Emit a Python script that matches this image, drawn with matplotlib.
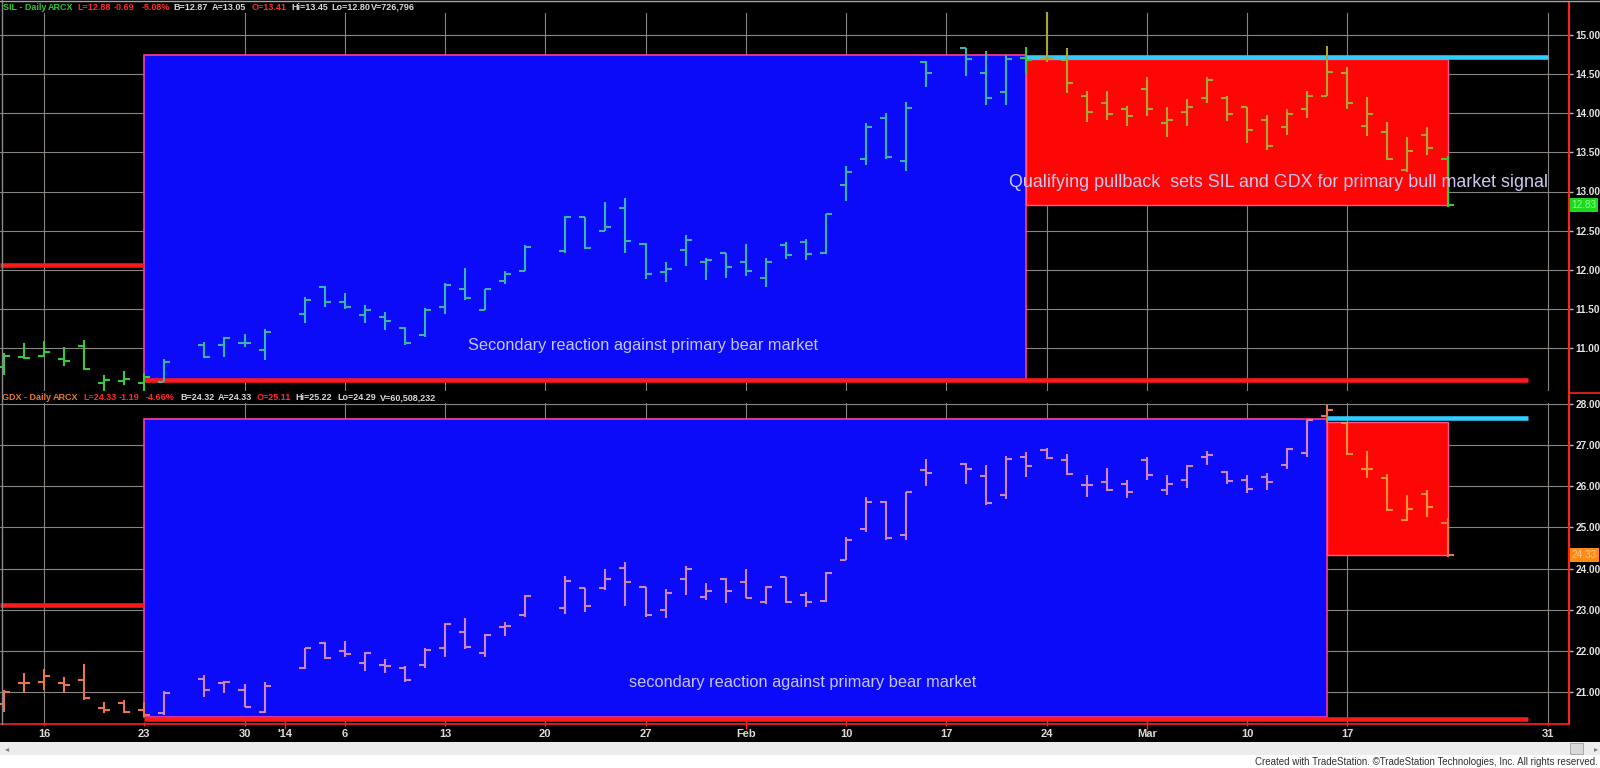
import numpy as np
import pandas as pd
import matplotlib
matplotlib.use("Agg")
import matplotlib.pyplot as plt
import matplotlib.transforms as mtrans
from matplotlib.collections import LineCollection
from matplotlib.patches import Rectangle
from matplotlib import font_manager

# ---- data ----
holidays = ["2013-12-25", "2014-01-01", "2014-01-20", "2014-02-17"]
days = pd.bdate_range("2013-12-12", "2014-03-24")
days = days[~days.isin(pd.to_datetime(holidays))]

sil_open = [10.76, 10.88, 10.90, 10.86, 11.03, 10.55, 10.58, 10.55, 10.57,
            11.04, 11.04, 11.07, 10.97,
            11.44, 11.78, 11.59, 11.42, 11.40, 11.26, 11.17, 11.53, 11.76, 11.49, 11.85, 11.99,
            12.24, 12.67, 12.50, 12.79, 12.33, 11.97, 12.25, 12.10, 12.22, 12.10, 11.90, 12.31, 12.35,
            12.21, 13.08, 13.42, 13.94, 13.39, 14.65,
            14.83, 14.52, 14.27, 14.70, 14.69, 14.68, 14.22, 14.13, 14.05, 14.31, 13.87, 14.01, 14.20,
            14.20, 14.08, 13.91, 13.83, 14.05, 14.22, 14.51, 13.84, 13.76, 13.27, 13.72, 13.41]
sil_high = [10.94, 11.07, 11.09, 11.01, 11.10, 10.66, 10.71, 10.68, 10.86,
            11.08, 11.14, 11.18, 11.24,
            11.65, 11.79, 11.70, 11.55, 11.46, 11.27, 11.51, 11.83, 12.02, 11.75, 11.98, 12.32,
            12.69, 12.67, 12.86, 12.92, 12.34, 12.10, 12.45, 12.15, 12.22, 12.33, 12.15, 12.35, 12.39,
            12.71, 13.32, 13.88, 14.00, 14.15, 14.67,
            14.83, 14.79, 14.74, 14.85, 15.29, 14.83, 14.28, 14.29, 14.09, 14.46, 14.08, 14.18, 14.46,
            14.22, 14.08, 13.98, 14.05, 14.29, 14.86, 14.59, 14.21, 13.89, 13.70, 13.83, 13.45]
sil_low = [10.66, 10.86, 10.88, 10.77, 10.72, 10.44, 10.53, 10.45, 10.56,
           10.87, 10.88, 11.01, 10.85,
           11.32, 11.52, 11.50, 11.32, 11.23, 11.04, 11.14, 11.44, 11.61, 11.49, 11.82, 11.98,
           12.22, 12.27, 12.50, 12.21, 11.88, 11.84, 12.05, 11.87, 11.90, 11.92, 11.78, 12.14, 12.13,
           12.20, 12.88, 13.34, 13.42, 13.26, 14.34,
           14.48, 14.10, 14.10, 14.51, 14.66, 14.26, 13.89, 13.91, 13.84, 13.96, 13.70, 13.84, 14.13,
           13.90, 13.62, 13.53, 13.72, 13.94, 14.22, 14.05, 13.71, 13.40, 13.25, 13.47, 12.80]
sil_close = [10.90, 10.87, 10.95, 10.84, 10.73, 10.59, 10.60, 10.63, 10.82,
             10.88, 11.13, 11.07, 11.20,
             11.61, 11.59, 11.52, 11.49, 11.34, 11.07, 11.48, 11.81, 11.64, 11.75, 11.95, 12.29,
             12.68, 12.28, 12.54, 12.37, 11.94, 12.01, 12.38, 12.12, 12.03, 11.98, 12.10, 12.19, 12.20,
             12.71, 13.25, 13.83, 13.44, 14.07, 14.52,
             14.69, 14.20, 14.69, 14.68, 14.70, 14.39, 14.01, 13.99, 13.96, 14.05, 13.92, 14.08, 14.42,
             13.99, 13.79, 13.58, 13.99, 14.22, 14.53, 14.13, 13.99, 13.41, 13.52, 13.56, 12.83]

gdx_open = [20.70, 21.23, 21.25, 21.21, 21.29, 20.60, 20.74, 20.55, 20.50,
            21.31, 21.23, 21.05, 20.52,
            21.59, 22.18, 22.00, 21.71, 21.66, 21.58, 21.66, 22.06, 22.46, 21.94, 22.59, 22.87,
            23.05, 23.52, 23.53, 24.01, 23.56, 22.99, 23.74, 23.32, 23.74, 23.68, 23.19, 23.79, 23.36,
            23.22, 24.21, 24.95, 25.63, 24.82, 26.40,
            26.53, 26.26, 25.79, 26.70, 26.88, 26.64, 26.03, 26.11, 26.05, 26.64, 25.91, 26.15, 26.70,
            26.34, 26.15, 26.23, 26.52, 26.80, 27.70, 27.55, 26.42, 26.21, 25.18, 25.81, 25.11]
gdx_high = [21.05, 21.47, 21.56, 21.37, 21.68, 20.76, 20.80, 20.75, 21.03,
            21.41, 21.27, 21.20, 21.25,
            22.08, 22.21, 22.24, 21.98, 21.79, 21.62, 22.06, 22.67, 22.79, 22.42, 22.71, 23.36,
            23.82, 23.53, 23.98, 24.17, 23.56, 23.50, 24.06, 23.64, 23.76, 23.98, 23.58, 23.80, 23.44,
            23.92, 24.77, 25.75, 25.64, 25.87, 26.66,
            26.56, 26.52, 26.74, 26.83, 26.92, 26.78, 26.27, 26.45, 26.15, 26.72, 26.27, 26.52, 26.86,
            26.36, 26.27, 26.32, 26.92, 27.61, 27.97, 27.57, 26.86, 26.29, 25.79, 25.91, 25.22]
gdx_low = [20.51, 20.98, 21.05, 20.98, 20.80, 20.48, 20.50, 20.40, 20.45,
           20.87, 20.97, 20.63, 20.50,
           21.55, 21.79, 21.86, 21.52, 21.47, 21.25, 21.58, 21.86, 22.04, 21.86, 22.37, 22.83,
           22.90, 22.95, 23.48, 23.09, 22.83, 22.79, 23.36, 23.24, 23.16, 23.28, 23.14, 23.17, 23.06,
           23.19, 24.21, 24.90, 24.69, 24.69, 26.01,
           26.05, 25.55, 25.69, 26.23, 26.66, 26.27, 25.75, 25.89, 25.71, 26.15, 25.80, 25.97, 26.52,
           26.05, 25.83, 25.91, 26.42, 26.72, 27.55, 26.76, 26.21, 25.40, 25.16, 25.26, 24.29]
gdx_close = [21.00, 21.21, 21.39, 21.17, 20.85, 20.55, 20.52, 20.45, 20.98,
             21.05, 21.25, 20.64, 21.15,
             22.06, 21.83, 21.92, 21.95, 21.62, 21.29, 22.02, 22.65, 22.10, 22.38, 22.60, 23.33,
             23.70, 23.09, 23.74, 23.67, 22.87, 23.40, 23.98, 23.46, 23.46, 23.29, 23.56, 23.19, 23.19,
             23.90, 24.69, 25.63, 24.74, 25.85, 26.33,
             26.42, 25.59, 26.66, 26.50, 26.68, 26.30, 26.03, 25.91, 25.85, 26.27, 26.05, 26.50, 26.76,
             26.13, 25.93, 26.10, 26.91, 27.61, 27.85, 26.78, 26.42, 25.42, 25.45, 25.50, 24.33]

# drawn boxes / levels (price levels and anchor dates)
box_start = "2013-12-23"
sil_blue = ("2014-02-21", 10.59, 14.74)
sil_red = ("2014-03-24", 12.83, 14.69)
gdx_blue = ("2014-03-14", 20.40, 27.64)
gdx_red = ("2014-03-24", 24.33, 27.57)
sil_left_level, sil_low_level, sil_cyan = 12.06, 10.59, 14.72
gdx_left_level, gdx_low_level, gdx_cyan = 23.11, 20.34, 27.65
line_end = "2014-03-28"
sil_cyan_end, gdx_cyan_end = "2014-03-31", "2014-03-28"

date_ticks = ["2013-12-16", "2013-12-23", "2013-12-30", "2014-01-01", "2014-01-06", "2014-01-13",
              "2014-01-20", "2014-01-27", "2014-02-03", "2014-02-10", "2014-02-17", "2014-02-24",
              "2014-03-03", "2014-03-10", "2014-03-17", "2014-03-31"]
date_labels = ["16", "23", "30", "'14", "6", "13", "20", "27", "Feb", "10", "17", "24",
               "Mar", "10", "17", "31"]
month_ticks = ["2014-01-01", "2014-02-03", "2014-03-03"]
no_grid = ["2013-12-23", "2014-01-01"]

sil_ticks = [11.0, 11.5, 12.0, 12.5, 13.0, 13.5, 14.0, 14.5, 15.0]
gdx_ticks = [21, 22, 23, 24, 25, 26, 27, 28]

sil_head = [("SIL - Daily", "#2fc82f"), ("ARCX", "#2fc82f"), ("L=12.88", "#ff2a2a"),
            ("-0.69", "#ff2a2a"), ("-5.08%", "#ff2a2a"), ("B=12.87", "#d8d8d8"),
            ("A=13.05", "#d8d8d8"), ("O=13.41", "#ff2a2a"), ("Hi=13.45", "#d8d8d8"),
            ("Lo=12.80", "#d8d8d8"), ("V=726,796", "#d8d8d8")]
sil_head_x = [3, 48, 77, 114, 142, 173, 212, 252, 291, 331, 371]
gdx_head = [("GDX - Daily", "#e8782a"), ("ARCX", "#e8782a"), ("L=24.33", "#ff2a2a"),
            ("-1.19", "#ff2a2a"), ("-4.66%", "#ff2a2a"), ("B=24.32", "#d8d8d8"),
            ("A=24.33", "#d8d8d8"), ("O=25.11", "#ff2a2a"), ("Hi=25.22", "#d8d8d8"),
            ("Lo=24.29", "#d8d8d8"), ("V=60,508,232", "#d8d8d8")]
gdx_head_x = [2, 53, 83, 119, 146, 180, 218, 257, 295, 337, 380]


# ---- helpers ----
def slot(d):
    # weekday slot counted from Mon 16 Dec 2013 (holidays keep an empty slot)
    idx = pd.DatetimeIndex(np.atleast_1d(d))
    s = np.busday_count(np.datetime64("2013-12-16"), idx.values.astype("datetime64[D]"))
    return s if np.ndim(d) else int(s[0])


names = {f.name for f in font_manager.fontManager.ttflist}
narrow = "Liberation Sans Narrow" if "Liberation Sans Narrow" in names else "Liberation Sans"
plt.rcParams["font.family"] = ["Liberation Sans", "DejaVu Sans"]

W, H = 1600, 768
px_slot, x0_px, axis_px = 20.05, 44, 1569


def rect(x0, y0, x1, y1):
    return [x0 / W, 1 - y1 / H, (x1 - x0) / W, (y1 - y0) / H]


def draw_bars(ax, x, o, h, l, c, cols):
    segs, colors = [], []
    for xi, oi, hi, li, ci, col in zip(x, o, h, l, c, cols):
        segs += [[(xi, li), (xi, hi)], [(xi - 0.3, oi), (xi, oi)], [(xi, ci), (xi + 0.3, ci)]]
        colors += [col] * 3
    ax.add_collection(LineCollection(segs, colors=colors, linewidths=1.5, zorder=5,
                                     capstyle="butt"))


x = slot(days)
x_start = slot(box_start)
xlim = (-x0_px / px_slot, (axis_px - x0_px) / px_slot)

fig = plt.figure(figsize=(16, 7.68), dpi=100, facecolor="black")
ax1 = fig.add_axes(rect(0, 2, axis_px, 391))
ax2 = fig.add_axes(rect(0, 393, axis_px, 724))
ax1.set_ylim(15 - (391 - 35) / 78.25, 15 + (35 - 2) / 78.25)
ax2.set_ylim(28 - (724 - 404) / 41.14, 28 + (404 - 393) / 41.14)

grid_x = [slot(d) for d in date_ticks if d not in no_grid]

for ax, ticks, top_px, h_px in [(ax1, sil_ticks, 11, 389), (ax2, gdx_ticks, 10, 331)]:
    ax.set_facecolor("black")
    ax.set_xlim(*xlim)
    for s in ["top", "left", "bottom"]:
        ax.spines[s].set_visible(False)
    ax.spines["right"].set_color("#ff2020")
    ax.spines["right"].set_linewidth(1.5)
    ax.yaxis.tick_right()
    ax.set_yticks(ticks)
    ax.set_yticklabels([f"{t:.2f}" for t in ticks], fontweight="bold")
    ax.tick_params(axis="y", colors="#bdbdbd", labelcolor="#e4e4e4", labelsize=7.2,
                   length=3, width=1, pad=1.5)
    for t in ticks:
        ax.axhline(t, color="#8a8580", lw=0.8, zorder=1)
    for gx in grid_x:
        ax.axvline(gx, ymax=1 - top_px / h_px, color="#8a8580", lw=0.8, zorder=1)

ax1.set_xticks([])

# ---- SIL panel ----
end, lo, hi = sil_blue
ax1.add_patch(Rectangle((x_start, lo), slot(end) - x_start, hi - lo, fc="#0b0bfa",
                        ec="#ff3c9c", lw=1.2, zorder=2))
end2, lo2, hi2 = sil_red
ax1.add_patch(Rectangle((slot(end), lo2), slot(end2) - slot(end), hi2 - lo2, fc="#ff0606",
                        ec="#ff5a8a", lw=1.0, zorder=2))
ax1.hlines(sil_left_level, xlim[0], x_start, color="#ff1a1a", lw=3.3, zorder=3)
ax1.hlines(sil_low_level, x_start, slot(line_end), color="#ff1a1a", lw=3.3, zorder=3)
ax1.hlines(sil_cyan, slot(end), slot(sil_cyan_end), color="#33ccff", lw=3.3, zorder=3)

sil_cols = ["#3ab4a6" if x_start < k < slot(end) else
            ("#a8a634" if slot(end) < k < slot(end2) else "#3cc83c") for k in x]
draw_bars(ax1, x, sil_open, sil_high, sil_low, sil_close, sil_cols)

ax1.text(slot("2014-01-14") + 0.15, 11.03, "Secondary reaction against primary bear market",
         color="#c6c6f4", fontsize=11.8, va="center", ha="left", zorder=6)
ax1.text(slot("2014-02-21") - 0.85, 13.11,
         "Qualifying pullback  sets SIL and GDX for primary bull market signal",
         color="#cfc8ee", fontsize=12.9, va="center", ha="left", zorder=6)

# ---- GDX panel ----
end, lo, hi = gdx_blue
ax2.add_patch(Rectangle((x_start, lo), slot(end) - x_start, hi - lo, fc="#0b0bfa",
                        ec="#ff3c9c", lw=1.2, zorder=2))
end2, lo2, hi2 = gdx_red
ax2.add_patch(Rectangle((slot(end), lo2), slot(end2) - slot(end), hi2 - lo2, fc="#ff0606",
                        ec="#ff5a8a", lw=1.0, zorder=2))
ax2.hlines(gdx_left_level, xlim[0], x_start, color="#ff1a1a", lw=3.3, zorder=3)
ax2.hlines(gdx_low_level, x_start, slot(line_end), color="#ff1a1a", lw=3.3, zorder=3)
ax2.hlines(gdx_cyan, slot(end), slot(gdx_cyan_end), color="#33ccff", lw=3.3, zorder=3)

gdx_cols = ["#cf86b8" if x_start < k < slot(end) else
            ("#f4923a" if slot(end) < k < slot(end2) else "#e8784a") for k in x]
draw_bars(ax2, x, gdx_open, gdx_high, gdx_low, gdx_close, gdx_cols)

ax2.text(slot("2014-01-24") + 0.2, 21.24, "secondary reaction against primary bear market",
         color="#c6c6f4", fontsize=11.8, va="center", ha="left", zorder=6)

# last-price markers on the price scale
for ax, val, fc, tc in [(ax1, sil_close[-1], "#1ed81e", "#8cff8c"),
                        (ax2, gdx_close[-1], "#ff8a14", "#ffc890")]:
    tr = mtrans.blended_transform_factory(ax.transAxes, ax.transData)
    ax.text(1 + 2.5 / axis_px, val, f"{val:.2f}", transform=tr, ha="left", va="center",
            fontsize=7.2, color=tc, clip_on=False, zorder=7,
            bbox=dict(boxstyle="square,pad=0.18", fc=fc, ec="none"))

# date axis
ax2.spines["bottom"].set_visible(True)
ax2.spines["bottom"].set_color("#ff2020")
ax2.spines["bottom"].set_linewidth(1.2)
ax2.set_xticks([slot(d) for d in date_ticks])
ax2.set_xticklabels(date_labels, family=narrow, fontweight="bold")
ax2.tick_params(axis="x", colors="#ff2020", labelcolor="#dcdcdc", labelsize=8,
                length=3, width=1, pad=2, direction="inout")
for d, t in zip(date_ticks, ax2.xaxis.get_major_ticks()):
    if d in month_ticks:
        t.tick1line.set_markersize(7)

# header rows
for items, xs, ypx in [(sil_head, sil_head_x, 7), (gdx_head, gdx_head_x, 398)]:
    for (txt, col), xp in zip(items, xs):
        fig.text(xp / W, 1 - ypx / H, txt, color=col, fontsize=6.5, fontweight="bold",
                 va="center", ha="left")

# frame bits
fig.add_artist(plt.Line2D([0, 1], [1 - 0.6 / H] * 2, color="#a8a8a8", lw=1))
fig.add_artist(plt.Line2D([1.5 / W] * 2, [1 - 724 / H, 1], color="#8a8a8a", lw=1))
fig.add_artist(plt.Line2D([axis_px / W] * 2, [1 - 393 / H, 1 - 391 / H], color="#ff2020", lw=1.5))
fig.add_artist(plt.Line2D([axis_px / W, 1], [1 - 392.5 / H] * 2, color="#ff2020", lw=1.2))

# scrollbar and footer
fig.add_artist(Rectangle((0, 1 - 755 / H), 1, 13 / H, transform=fig.transFigure,
                         fc="#ececec", ec="none"))
fig.add_artist(Rectangle((0, 0), 1, 13 / H, transform=fig.transFigure, fc="white", ec="none"))
fig.add_artist(Rectangle((1570 / W, 1 - 754 / H), 13 / W, 11 / H, transform=fig.transFigure,
                         fc="#d8d8d8", ec="#a0a0a0", lw=0.6))
fig.text(5 / W, 1 - 748.5 / H, "\u25c2", color="#808080", fontsize=6, va="center",
         family="DejaVu Sans")
fig.text(1594 / W, 1 - 748.5 / H, "\u25b8", color="#808080", fontsize=6, va="center",
         family="DejaVu Sans")
fig.text(1598 / W, 1 - 762 / H,
         "Created with TradeStation. \u00a9TradeStation Technologies, Inc. All rights reserved.",
         color="#303030", fontsize=7, ha="right", va="center", family=narrow)

fig.savefig("out.png", dpi=100, facecolor="black")
